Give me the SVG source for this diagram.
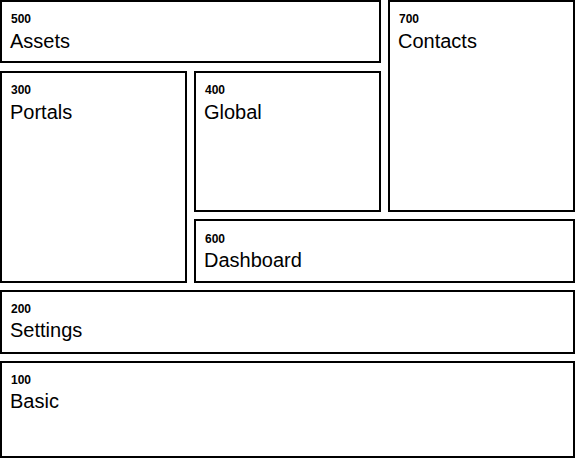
<svg xmlns="http://www.w3.org/2000/svg" width="575" height="458" viewBox="0 0 575 458">
<style>
.box{fill:#fff;stroke:#000;stroke-width:2}
.num{font-family:"Liberation Sans",Arial,sans-serif;font-size:12px;font-weight:bold;fill:#000}
.lbl{font-family:"Liberation Sans",Arial,sans-serif;font-size:20px;fill:#000}
</style>
<rect width="575" height="458" fill="#fff"/>
<g id="n500"><rect class="box" x="1" y="1" width="379" height="61"/><text class="num" x="11" y="23">500</text><text class="lbl" x="10" y="48">Assets</text></g>
<g id="n700"><rect class="box" x="389" y="1" width="185" height="210"/><text class="num" x="399" y="23">700</text><text class="lbl" x="398" y="48">Contacts</text></g>
<g id="n300"><rect class="box" x="1" y="72" width="185" height="210"/><text class="num" x="11" y="94">300</text><text class="lbl" x="10" y="119">Portals</text></g>
<g id="n400"><rect class="box" x="195" y="72" width="185" height="139"/><text class="num" x="205" y="94">400</text><text class="lbl" x="204" y="119">Global</text></g>
<g id="n600"><rect class="box" x="195" y="220" width="379" height="62"/><text class="num" x="205" y="243">600</text><text class="lbl" x="204" y="267">Dashboard</text></g>
<g id="n200"><rect class="box" x="1" y="291" width="573" height="62"/><text class="num" x="11" y="313">200</text><text class="lbl" x="10" y="337">Settings</text></g>
<g id="n100"><rect class="box" x="1" y="362" width="573" height="95"/><text class="num" x="11" y="384">100</text><text class="lbl" x="10" y="408">Basic</text></g>
<g id="connectors"/>
</svg>
